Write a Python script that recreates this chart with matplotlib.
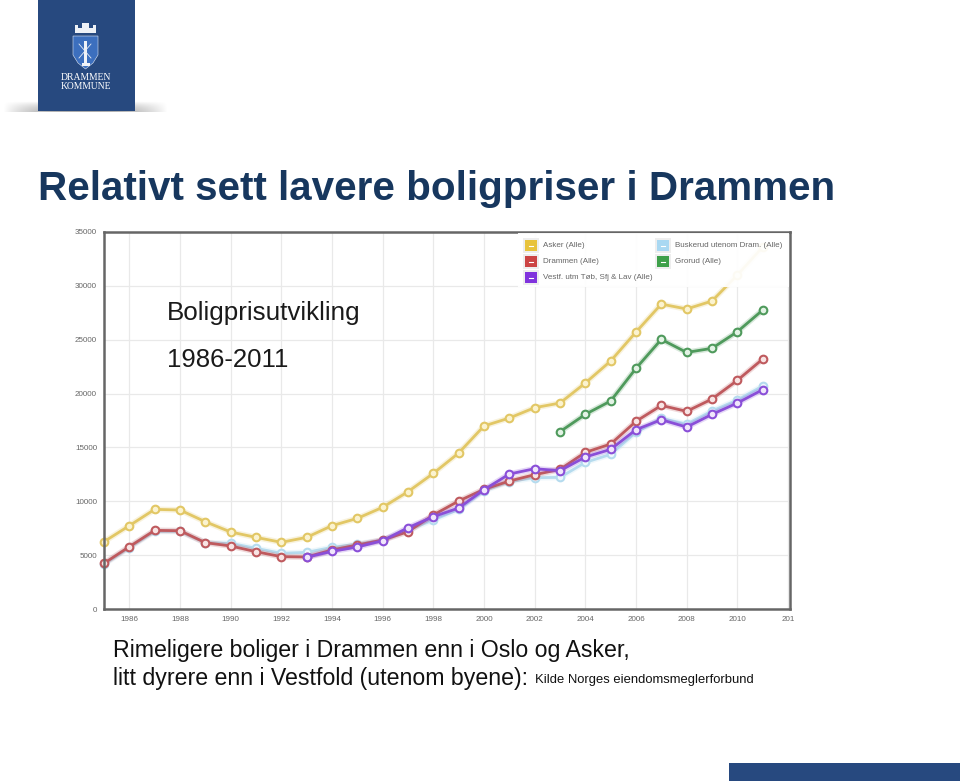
#!/usr/bin/env python3
# -*- coding: utf-8 -*-
import matplotlib
matplotlib.use('Agg')
import matplotlib.pyplot as plt
import numpy as np
from matplotlib.patches import Polygon, Rectangle

plt.rcParams['font.family'] = ['Liberation Sans', 'DejaVu Sans']

# Data
years = list(range(1985, 2012))
asker = [6250, 7735, 9250, 9190, 8100, 7150, 6650, 6190, 6650, 7735, 8415, 9440, 10890,
         12590, 14480, 16990, 17730, 18690, 19120, 20980, 23020, 25710, 28310, 27850,
         28590, 31000, 33600]
drammen = [4240, 5785, 7300, 7270, 6160, 5850, 5320, 4860, 4830, 5480, 5940, 6400, 7180,
           8725, 10025, 11110, 11880, 12470, 12960, 14540, 15315, 17420, 18900, 18350,
           19490, 21225, 23200]
buskerud = [4150, 5700, 7200, 7200, 6150, 6100, 5630, 5170, 5260, 5720, 6030, 6400, 7330,
            8260, 9250, 10980, 11820, 12190, 12220, 13610, 14360, 16400, 17700, 17170,
            18380, 19400, 20700]
years_grorud = list(range(2003, 2012))
grorud = [16460, 18070, 19310, 22340, 25030, 23820, 24200, 25740, 27750]
years_vestfold = list(range(1993, 2012))
vestfold = [4800, 5350, 5755, 6340, 7550, 8570, 9375, 11075, 12530, 13025, 12840, 14110,
            14820, 16650, 17570, 16890, 18070, 19120, 20360]

yticks = [0, 5000, 10000, 15000, 20000, 25000, 30000, 35000]
xticks = list(range(1986, 2013, 2))
xticklabels = [str(y) for y in xticks[:-1]] + ['201']

title = 'Relativt sett lavere boligpriser i Drammen'
text_line1 = 'Rimeligere boliger i Drammen enn i Oslo og Asker,'
text_line2 = 'litt dyrere enn i Vestfold (utenom byene):'
source = 'Kilde Norges eiendomsmeglerforbund'
legend_labels = ['Asker (Alle)', 'Drammen (Alle)', 'Vestf. utm Tøb, Sfj & Lav (Alle)',
                 'Buskerud utenom Dram. (Alle)', 'Grorud (Alle)']
legend_colors = ['#e8c33c', '#cc4444', '#8033dd', '#a9d8f2', '#3ea04a']

W, H = 960, 781
fig = plt.figure(figsize=(W / 100, H / 100), dpi=100)

# chart
ax = fig.add_axes([104 / W, 1 - 609 / H, (790 - 104) / W, (609 - 232) / H])
ax.set_xlim(1985, 2012.08)
ax.set_ylim(0, 35000)
ax.set_xticks(xticks)
ax.set_xticklabels(xticklabels)
ax.set_yticks(yticks)
ax.tick_params(length=0, labelsize=5.8, labelcolor='#666666', pad=5)
ax.grid(color='#e9e9e9', lw=0.9)
ax.set_axisbelow(True)
for s in ax.spines.values():
    s.set_color('#666666')
    s.set_linewidth(1.8)


def serie(x, y, col, fill):
    ax.plot(x, y, color=col, lw=4.2, alpha=0.22, solid_capstyle='round')
    ax.plot(x, y, color=col, lw=2, marker='o', ms=5.5, mew=1.5,
            mfc=fill, mec=col, clip_on=False)


serie(years, asker, '#e2c765', '#fbf3cf')
serie(years, buskerud, '#b5dbee', '#eef8fd')
serie(years, drammen, '#bf5a5e', '#f8e4e4')
serie(years_grorud, grorud, '#4f9a5c', '#e3f3e5')
serie(years_vestfold, vestfold, '#8a4fd8', '#f0e6fb')

# everything else in pixel coordinates
ov = fig.add_axes([0, 0, 1, 1], zorder=5)
ov.axis('off')

# legend box
ov.add_patch(Rectangle((518, 233), 271, 54, fc='white', ec='none', alpha=0.93))
pos = [(523, 238), (523, 254), (523, 270), (655, 238), (655, 254)]
for (px, py), lab, col in zip(pos, legend_labels, legend_colors):
    ov.add_patch(Rectangle((px, py), 16, 15, fc='#eeeeee', ec='none'))
    ov.add_patch(Rectangle((px + 2, py + 2), 12, 11, fc=col, ec='none'))
    ov.plot([px + 6, px + 10], [py + 7.5, py + 7.5], color='white', lw=0.8)
    ov.text(px + 20, py + 7.5, lab, fontsize=5.8, color='#666666', va='center')

# logo
sh = np.zeros((20, 200, 4))
xg = np.clip(1 - np.abs(np.linspace(-1, 1, 200)) ** 2.5, 0, 1)
yg = np.linspace(0, 1, 20)[:, None] * np.linspace(1, 0.6, 20)[:, None]
sh[..., 3] = 0.55 * xg * yg
ov.imshow(sh, extent=(3, 168, 112, 101), aspect='auto', zorder=1)
ov.set_xlim(0, W)
ov.set_ylim(H, 0)
ov.add_patch(Rectangle((38, 0), 97, 111, fc='#27497f', ec='none', zorder=2))
ov.add_patch(Polygon([(73, 36), (98, 36), (98, 55), (93, 63), (85.5, 69), (78, 63), (73, 55)],
                     fc='#3c6fbe', ec='#dfe6f2', lw=0.4, zorder=3))
ov.add_patch(Polygon([(75, 33), (75, 25), (78, 25), (78, 28), (82, 28), (82, 23), (89, 23),
                      (89, 28), (93, 28), (93, 25), (96, 25), (96, 33)],
                     fc='#eef1f6', ec='none', zorder=3))
ov.add_patch(Rectangle((84, 41), 3, 24, fc='#f0f3f8', ec='none', zorder=4))
ov.add_patch(Rectangle((81.5, 63), 8, 3, fc='#f0f3f8', ec='none', zorder=4))
ov.plot([79, 91], [44, 58], color='#e6ebf4', lw=0.6, zorder=4)
ov.plot([91, 79], [44, 58], color='#e6ebf4', lw=0.6, zorder=4)
ov.text(86, 78, 'DRAMMEN', family='Liberation Serif', fontsize=6.9, color='white',
        ha='center', va='center', zorder=5)
ov.text(86, 86.5, 'KOMMUNE', family='Liberation Serif', fontsize=6.9, color='white',
        ha='center', va='center', zorder=5)

# bottom bar
ov.add_patch(Rectangle((729, 763), 231, 18, fc='#27497f', ec='none'))

# texts
ov.text(38, 200, title, fontsize=29.1, fontweight='bold', color='#17375e', va='baseline')
ov.text(167, 320, 'Boligprisutvikling', fontsize=18.7, color='#1a1a1a', va='baseline')
ov.text(167, 367, '1986-2011', fontsize=18.5, color='#1a1a1a', va='baseline')
ov.text(113, 657, text_line1, fontsize=16.65, color='#111111', va='baseline')
ov.text(113, 685, text_line2, fontsize=16.65, color='#111111', va='baseline')
ov.text(535, 683, source, fontsize=9.4, color='#111111', va='baseline')

fig.savefig('out.png', dpi=100)
